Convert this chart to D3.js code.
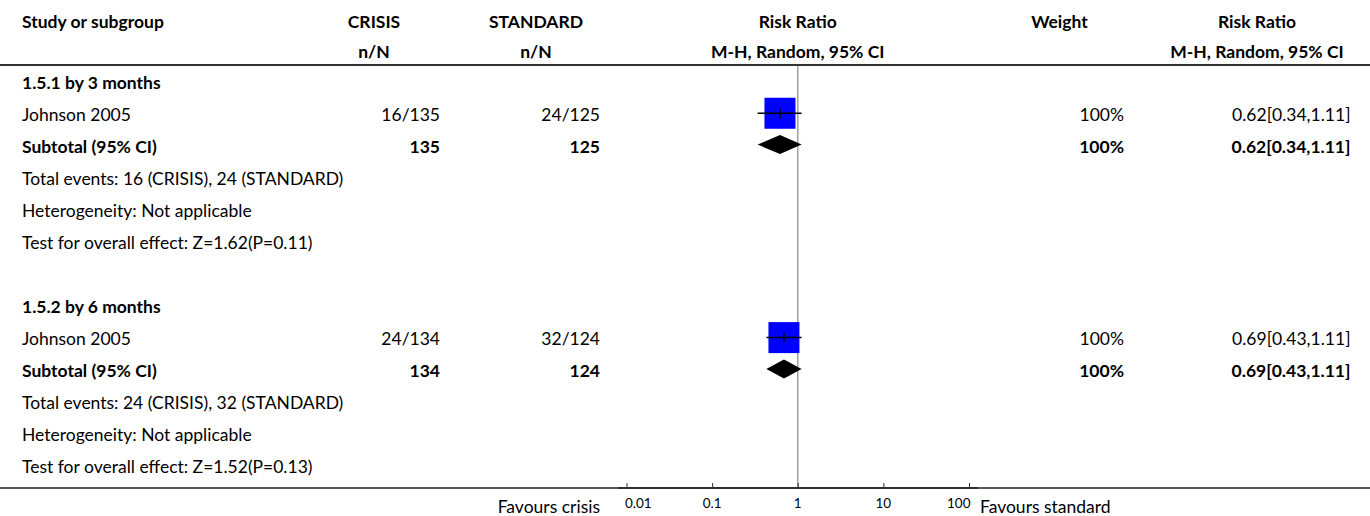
<!DOCTYPE html>
<html>
<head>
<meta charset="utf-8">
<script src="https://cdn.jsdelivr.net/npm/d3@7"></script>
<style>
  html, body { margin: 0; padding: 0; background: #fff; }
  svg { display: block; }
  text { font-family: Lato, "Noto Sans", sans-serif; fill: #000; }
</style>
</head>
<body>
<svg id="chart" width="1370" height="516"></svg>
<script>
// ---------- DATA ----------
const headerTop = ["Study or subgroup", "CRISIS", "STANDARD", "Risk Ratio", "Weight", "Risk Ratio"];
const headerSub = ["", "n/N", "n/N", "M-H, Random, 95% CI", "", "M-H, Random, 95% CI"];
const subgroups = ["1.5.1 by 3 months", "1.5.2 by 6 months"];
const studies = ["Johnson 2005", "Johnson 2005"];
const crisisEvents = [16, 24];
const crisisTotal = [135, 134];
const standardEvents = [24, 32];
const standardTotal = [125, 124];
const rrEst = [0.62, 0.69];
const rrLow = [0.34, 0.43];
const rrHigh = [1.11, 1.11];
const weights = ["100%", "100%"];
const heterogeneity = ["Not applicable", "Not applicable"];
const zValues = ["1.62", "1.52"];
const pValues = ["0.11", "0.13"];
const axisTicks = [0.01, 0.1, 1, 10, 100];
const axisTickLabels = ["0.01", "0.1", "1", "10", "100"];
const favoursLeft = "Favours crisis";
const favoursRight = "Favours standard";

// ---------- LAYOUT ----------
const svg = d3.select("#chart");
const fs = 17.5;      // body font size
const tickFs = 13.5;

const x = d3.scaleLog().domain([0.01, 100]).range([626.5, 969]);
const rowY = d3.scaleLinear().domain([0, 12]).range([82.7, 467.3]);
const headerLineY = 65;
const axisY = 488;

// column anchors
const colLeft = 22;
const crisisRight = 440, crisisHead = 374;
const standardRight = 600, standardHead = 536;
const weightRight = 1124, weightHead = 1059.5;
const rrRight = 1350.5, rrHead = 1257;
const plotHead = x(1);

function txt(xp, yp, s, anchor, bold, size) {
  svg.append("text")
    .attr("x", xp).attr("y", yp).attr("dy", "0.35em")
    .attr("text-anchor", anchor || "start")
    .attr("font-size", size || fs)
    .attr("font-weight", bold ? 700 : 400)
    .text(s);
}

// headers
const headX = [colLeft, crisisHead, standardHead, plotHead, weightHead, rrHead];
const headAnchor = ["start", "middle", "middle", "middle", "middle", "middle"];
headerTop.forEach((h, i) => txt(headX[i], 21.7, h, headAnchor[i], true));
headerSub.forEach((h, i) => { if (h) txt(headX[i], 51.7, h, headAnchor[i], true); });

// header line
svg.append("line")
  .attr("x1", 0).attr("x2", 1370).attr("y1", headerLineY).attr("y2", headerLineY)
  .attr("stroke", "#333").attr("stroke-width", 2);

// vertical null line
svg.append("line")
  .attr("x1", x(1)).attr("x2", x(1)).attr("y1", headerLineY + 1).attr("y2", axisY)
  .attr("stroke", "#a0a0a0").attr("stroke-width", 1.5);

const fmt = d3.format(".2f");

subgroups.forEach((g, gi) => {
  const base = gi * 7;
  const yT = rowY(base), yS = rowY(base + 1), ySub = rowY(base + 2);
  txt(colLeft, yT, g, "start", true);

  // study row
  txt(colLeft, yS, studies[gi]);
  txt(crisisRight, yS, crisisEvents[gi] + "/" + crisisTotal[gi], "end");
  txt(standardRight, yS, standardEvents[gi] + "/" + standardTotal[gi], "end");
  txt(weightRight, yS, weights[gi], "end");
  txt(rrRight, yS, fmt(rrEst[gi]) + "[" + fmt(rrLow[gi]) + "," + fmt(rrHigh[gi]) + "]", "end");

  const my = yS - 1.5;
  const sq = 31;
  svg.append("rect")
    .attr("x", x(rrEst[gi]) - sq / 2).attr("y", my - sq / 2)
    .attr("width", sq).attr("height", sq).attr("fill", "#0000ff");
  svg.append("line")
    .attr("x1", x(rrLow[gi])).attr("x2", x(rrHigh[gi])).attr("y1", my).attr("y2", my)
    .attr("stroke", "#000").attr("stroke-width", 1.5);
  svg.append("line")
    .attr("x1", x(rrEst[gi])).attr("x2", x(rrEst[gi])).attr("y1", my - 4.5).attr("y2", my + 4.5)
    .attr("stroke", "#000").attr("stroke-width", 1.5);

  // subtotal row
  txt(colLeft, ySub, "Subtotal (95% CI)", "start", true);
  txt(crisisRight, ySub, crisisTotal[gi], "end", true);
  txt(standardRight, ySub, standardTotal[gi], "end", true);
  txt(weightRight, ySub, weights[gi], "end", true);
  txt(rrRight, ySub, fmt(rrEst[gi]) + "[" + fmt(rrLow[gi]) + "," + fmt(rrHigh[gi]) + "]", "end", true);

  const dy = ySub - 2.2, dh = 9.5;
  svg.append("path")
    .attr("d", d3.line()([[x(rrLow[gi]), dy], [x(rrEst[gi]), dy - dh], [x(rrHigh[gi]), dy], [x(rrEst[gi]), dy + dh]]) + "Z")
    .attr("fill", "#000");

  txt(colLeft, rowY(base + 3), "Total events: " + crisisEvents[gi] + " (CRISIS), " + standardEvents[gi] + " (STANDARD)");
  txt(colLeft, rowY(base + 4), "Heterogeneity: " + heterogeneity[gi]);
  txt(colLeft, rowY(base + 5), "Test for overall effect: Z=" + zValues[gi] + "(P=" + pValues[gi] + ")");
});

// bottom line
svg.append("line")
  .attr("x1", 0).attr("x2", 1370).attr("y1", axisY).attr("y2", axisY)
  .attr("stroke", "#222").attr("stroke-width", 1.5);

// axis
const axisG = svg.append("g").attr("transform", `translate(0,${axisY})`);
const axis = d3.axisTop(x).tickValues(axisTicks).tickSize(5).tickSizeOuter(0).tickFormat("");
axisG.call(axis);
axisG.select(".domain").attr("d", `M618,0H978`).attr("stroke", "#222").attr("stroke-width", 1.5);
axisG.selectAll(".tick line").attr("stroke", "#333").attr("stroke-width", 1);

axisTicks.forEach((t, i) => {
  const anchor = i === 0 ? "start" : (i === axisTicks.length - 1 ? "end" : "middle");
  const xp = i === 0 ? x(t) - 1.5 : (i === axisTicks.length - 1 ? x(t) + 1.5 : x(t));
  txt(xp, 503, axisTickLabels[i], anchor, false, tickFs);
});

txt(600, 506.5, favoursLeft, "end");
txt(980, 506.5, favoursRight, "start");
</script>
</body>
</html>
